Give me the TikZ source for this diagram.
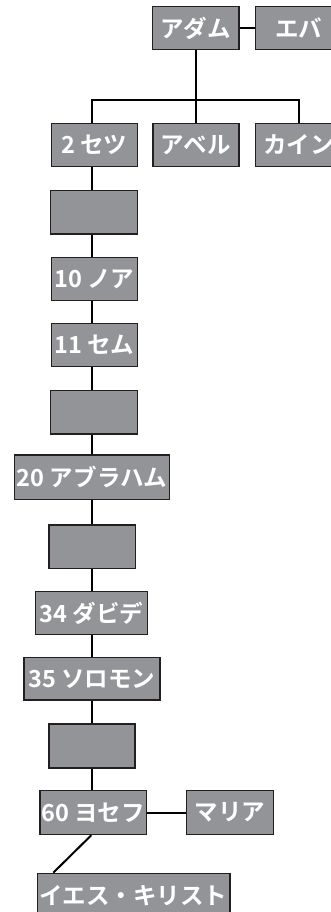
\documentclass[tikz,border=0pt]{standalone}
\usepackage{fontspec}
\newfontfamily\jp{Noto Sans CJK JP}[BoldFont={Noto Sans CJK JP Bold}]
\definecolor{boxfill}{HTML}{929497}
\definecolor{boxline}{HTML}{231F20}
\tikzset{
  famtree/.style={x=1pt,y=-1pt},
  pbox/.style={draw=boxline, line width=1.2pt, fill=boxfill, text=white,
    font=\jp\bfseries\fontsize{23.5}{23.5}\selectfont, inner sep=0pt, anchor=north west},
  link/.style={line width=2pt, draw=black}
}
% \pb{name}{x1}{y1}{x2}{y2}{text}
\newcommand{\pb}[6]{%
  \node[pbox, minimum width={(#4-#2)*1pt}, minimum height={(#5-#3)*1pt}] (#1) at (#2,#3) {#6};}
\begin{document}
\begin{tikzpicture}[famtree]
\useasboundingbox (0,0) rectangle (331,912);
\clip (0,0) rectangle (331,912);
\coordinate (sp) at (92,0);
\coordinate (bar) at (0,100);
\pb{adam}{151.7}{5.7}{238.3}{49.3}{アダム}
\pb{eva}{255}{5.7}{341.6}{49.3}{エバ}
\pb{seth}{50.7}{122.7}{136.7}{166}{2 セツ}
\pb{abel}{152.3}{122.7}{238.3}{166}{アベル}
\pb{cain}{255}{122.7}{341}{166}{カイン}
\pb{g1}{50}{190}{136.7}{233.3}{}
\pb{noah}{50.7}{256.7}{136.7}{300}{10 ノア}
\pb{shem}{50.7}{322.7}{136.7}{366}{11 セム}
\pb{g2}{50}{390}{136.7}{433.3}{}
\pb{abraham}{14}{454.3}{169}{498.7}{20 アブラハム}
\pb{g3}{48.3}{524.3}{135}{567.7}{}
\pb{david}{35}{590.7}{146.7}{634}{34 ダビデ}
\pb{solomon}{23.3}{656.7}{159.3}{699.3}{35 ソロモン}
\pb{g4}{48.3}{723.3}{134.3}{767.3}{}
\pb{joseph}{39.3}{790}{145.7}{834}{60 ヨセフ}
\pb{mary}{186}{790}{272.7}{834}{マリア}
\pb{jesus}{36.7}{872.7}{229.3}{917}{イエス・キリスト}
\coordinate (jtop) at ([xshift=16.6pt]jesus.north west);
\coordinate (jbot) at ([xshift=-1.8pt]joseph.south);
\begin{scope}[link]
\draw (adam.east) -- (eva.west);
\draw (adam.south) -- (adam.south |- bar);
\draw (seth.north -| sp) |- (bar -| cain.north) -- (cain.north);
\draw (abel.north) -- (abel.north |- bar);
\draw (seth.south -| sp) -- (g1.north -| sp);
\draw (g1.south -| sp) -- (noah.north -| sp);
\draw (noah.south -| sp) -- (shem.north -| sp);
\draw (shem.south -| sp) -- (g2.north -| sp);
\draw (g2.south -| sp) -- (abraham.north -| sp);
\draw (abraham.south -| sp) -- (g3.north -| sp);
\draw (g3.south -| sp) -- (david.north -| sp);
\draw (david.south -| sp) -- (solomon.north -| sp);
\draw (solomon.south -| sp) -- (g4.north -| sp);
\draw (g4.south -| sp) -- (joseph.north -| sp);
\draw (joseph.east) -- (mary.west);
\draw (jbot) -- (jtop);
\end{scope}
\end{tikzpicture}
\end{document}
